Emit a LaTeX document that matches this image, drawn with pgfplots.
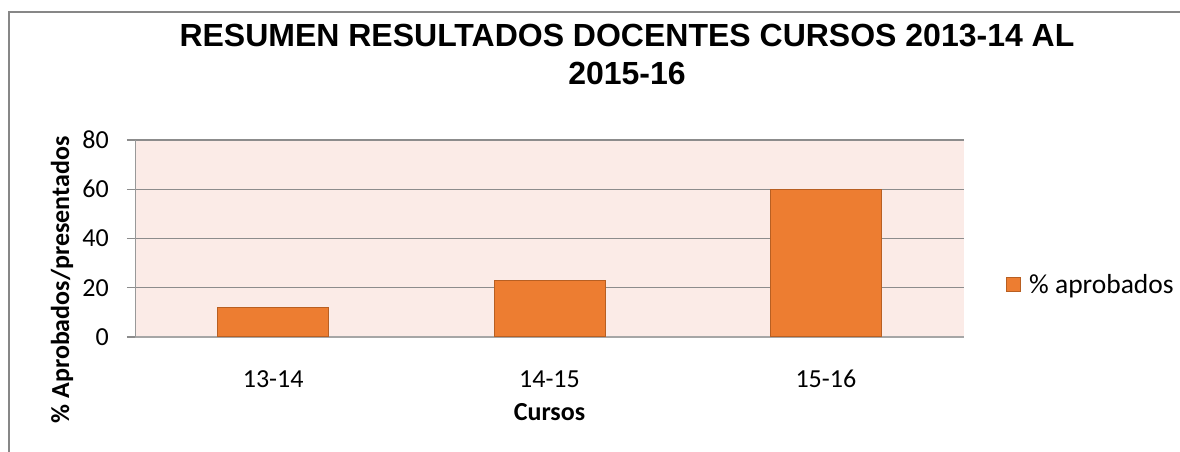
\documentclass[border=0pt]{standalone}
\usepackage{pgfplots}
\pgfplotsset{compat=1.18}
\usepackage{fontspec}
\setmainfont{Carlito}
\newfontfamily\titlefont{Liberation Sans}
\definecolor{barfill}{HTML}{ED7D31}
\definecolor{barline}{HTML}{B85F22}
\definecolor{plotbg}{HTML}{FBEBE7}
\definecolor{gridc}{HTML}{8C8C8C}
\definecolor{framec}{HTML}{878787}
\begin{document}
\begin{tikzpicture}[x=1bp,y=1bp]
\useasboundingbox (0,0) rectangle (1180,452);
\draw[framec, line width=1.2bp] (9,0) -- (9,440) -- (1180,440);
\node[anchor=base, font=\titlefont\bfseries\fontsize{32bp}{37bp}\selectfont] at (627,405) {RESUMEN RESULTADOS DOCENTES CURSOS 2013-14 AL};
\node[anchor=base, font=\titlefont\bfseries\fontsize{32bp}{37bp}\selectfont] at (627,367) {2015-16};
\begin{axis}[
  at={(135bp,115bp)}, anchor=south west,
  scale only axis, width=829bp, height=197bp,
  font=\fontsize{26bp}{31bp}\selectfont,
  /pgf/number format/assume math mode=true,
  xmin=-0.5, xmax=2.5, ymin=0, ymax=80,
  xtick={0,1,2}, xticklabels={13-14,14-15,15-16},
  ytick={0,20,40,60,80},
  axis x line*=bottom, axis y line*=left,
  x axis line style={draw=gray!70, line width=2bp, -},
  y axis line style={draw=gray!80, line width=1bp, -},
  xtick style={draw=none},
  ytick style={draw=gridc, line width=1.2bp},
  tick align=outside, major tick length=8bp,
  ymajorgrids, grid style={draw=gridc, line width=1.2bp},
  axis background/.style={fill=plotbg},
  xticklabel style={anchor=base, yshift=-43bp, inner sep=0pt},
  yticklabel style={anchor=east, xshift=-18bp, inner sep=0pt},
  xlabel={\bfseries Cursos},
  xlabel style={at={(rel axis cs:0.5,-0.426)}, anchor=base, inner sep=0pt},
  ylabel={\bfseries \% Aprobados/presentados},
  ylabel style={at={(rel axis cs:-0.0796,0.289)}, anchor=base, inner sep=0pt},
  legend style={draw=none, fill=none, at={(axis description cs:1.0507,0.264)}, anchor=west, inner sep=0pt, font=\fontsize{27.5bp}{32bp}\selectfont},
  legend image code/.code={\draw[#1, line width=1bp] (0bp,-7bp) rectangle (14bp,7bp);},
]
\addplot[ybar, bar width=111bp, fill=barfill, draw=barline, line width=1bp] coordinates {(0,12) (1,23) (2,60)};
\addlegendentry{\hspace{6bp}\% aprobados}
\end{axis}
\end{tikzpicture}
\end{document}
